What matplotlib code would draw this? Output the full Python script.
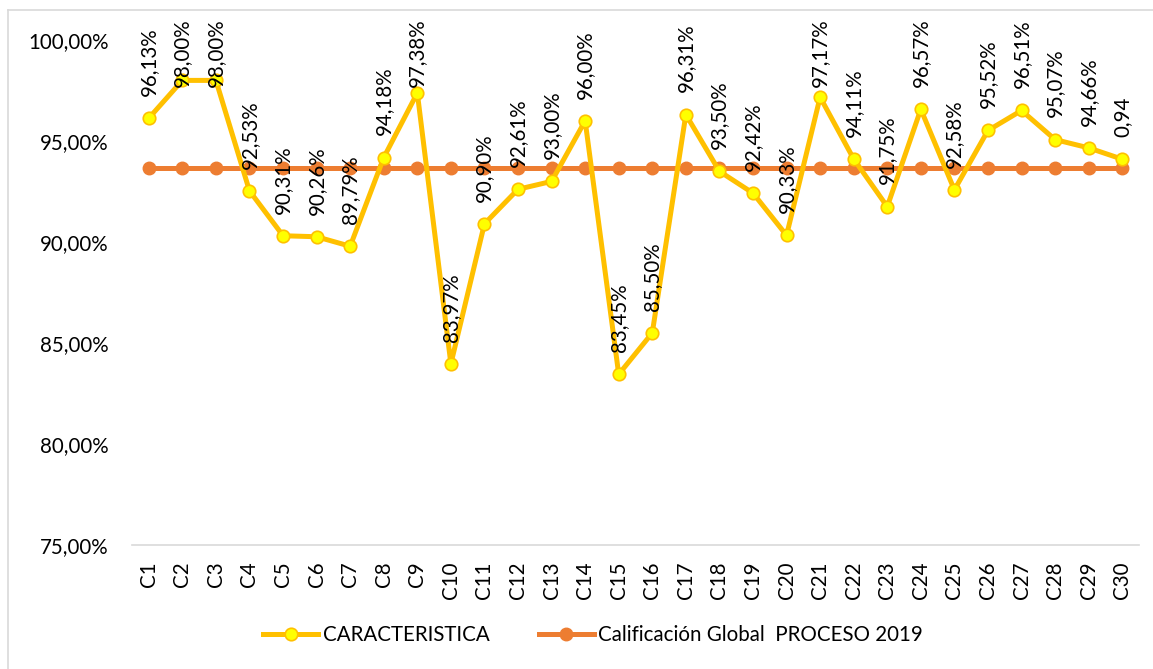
import matplotlib
matplotlib.use("Agg")
import matplotlib.pyplot as plt
from matplotlib.lines import Line2D


categories = [f"C{i}" for i in range(1, 31)]
caracteristica = [
    96.13, 98.00, 98.00, 92.53, 90.31, 90.26, 89.79, 94.18, 97.38, 83.97,
    90.90, 92.61, 93.00, 96.00, 83.45, 85.50, 96.31, 93.50, 92.42, 90.33,
    97.17, 94.11, 91.75, 96.57, 92.58, 95.52, 96.51, 95.07, 94.66, 94.10,
]
# the last cell is shown as a plain number in the source
point_labels = [f"{v:.2f}%".replace(".", ",") for v in caracteristica[:-1]] + ["0,94"]
global_2019 = [93.66] * 30
y_ticks = [75, 80, 85, 90, 95, 100]

YELLOW = "#FFC000"
YELLOW_FILL = "#FFFF00"
ORANGE = "#ED7D31"
W, H = 1153, 669
FS = 14.8

plt.rcParams["font.family"] = ["Lato", "DejaVu Sans"]

fig = plt.figure(figsize=(W / 100, H / 100), dpi=100)
ax = fig.add_axes([132 / W, (H - 545) / H, 1007 / W, 505 / H])

x = list(range(len(categories)))
ax.plot(x, caracteristica, color=YELLOW, linewidth=3.6, marker="o", markersize=9,
        markerfacecolor=YELLOW_FILL, markeredgecolor=YELLOW, markeredgewidth=1.2,
        zorder=3, label="CARACTERISTICA")
ax.plot(x, global_2019, color=ORANGE, linewidth=3.6, marker="o", markersize=9,
        markerfacecolor=ORANGE, markeredgecolor=ORANGE, zorder=2,
        label="Calificación Global  PROCESO 2019")

ax.set_xlim(-0.5, len(categories) - 0.5)
ax.set_ylim(75, 100)
ax.set_xticks(x)
ax.set_xticklabels(categories, rotation=90, fontsize=FS)
ax.set_yticks(y_ticks)
ax.set_yticklabels([f"{t:.2f}%".replace(".", ",") for t in y_ticks], fontsize=FS)
ax.tick_params(axis="both", length=0)
ax.tick_params(axis="y", pad=17)
ax.tick_params(axis="x", pad=12)
for side in ["top", "right", "left"]:
    ax.spines[side].set_visible(False)
ax.spines["bottom"].set_color("#D9D9D9")
ax.spines["bottom"].set_linewidth(1.2)

labels = []
for xi, v, txt in zip(x, caracteristica, point_labels):
    t = ax.annotate(txt, (xi, v), xytext=(0, 16), textcoords="offset points",
                    rotation=90, ha="center", va="bottom", fontsize=FS,
                    annotation_clip=False, zorder=4)
    labels.append(t)

# keep labels inside the chart area like the spreadsheet does
fig.canvas.draw()
renderer = fig.canvas.get_renderer()
top_limit = H - 18
for t in labels:
    bb = t.get_window_extent(renderer)
    if bb.y1 > top_limit:
        dx, dy = t.xyann
        t.xyann = (dx, dy - (bb.y1 - top_limit) * 72 / fig.dpi)

# outer chart border (only top and left are inside the picture)
fig.add_artist(Line2D([8 / W, 8 / W], [0, (H - 10) / H], color="#D9D9D9", linewidth=1.2))
fig.add_artist(Line2D([8 / W, 1], [(H - 10) / H, (H - 10) / H], color="#D9D9D9", linewidth=1.2))

handles, names = ax.get_legend_handles_labels()
fig.legend(handles, names, loc="center", bbox_to_anchor=(593 / W, (H - 635) / H),
           ncol=2, frameon=False, fontsize=FS, handlelength=2.7,
           columnspacing=2.4, handletextpad=0.2)

fig.savefig("out.png", dpi=100)
